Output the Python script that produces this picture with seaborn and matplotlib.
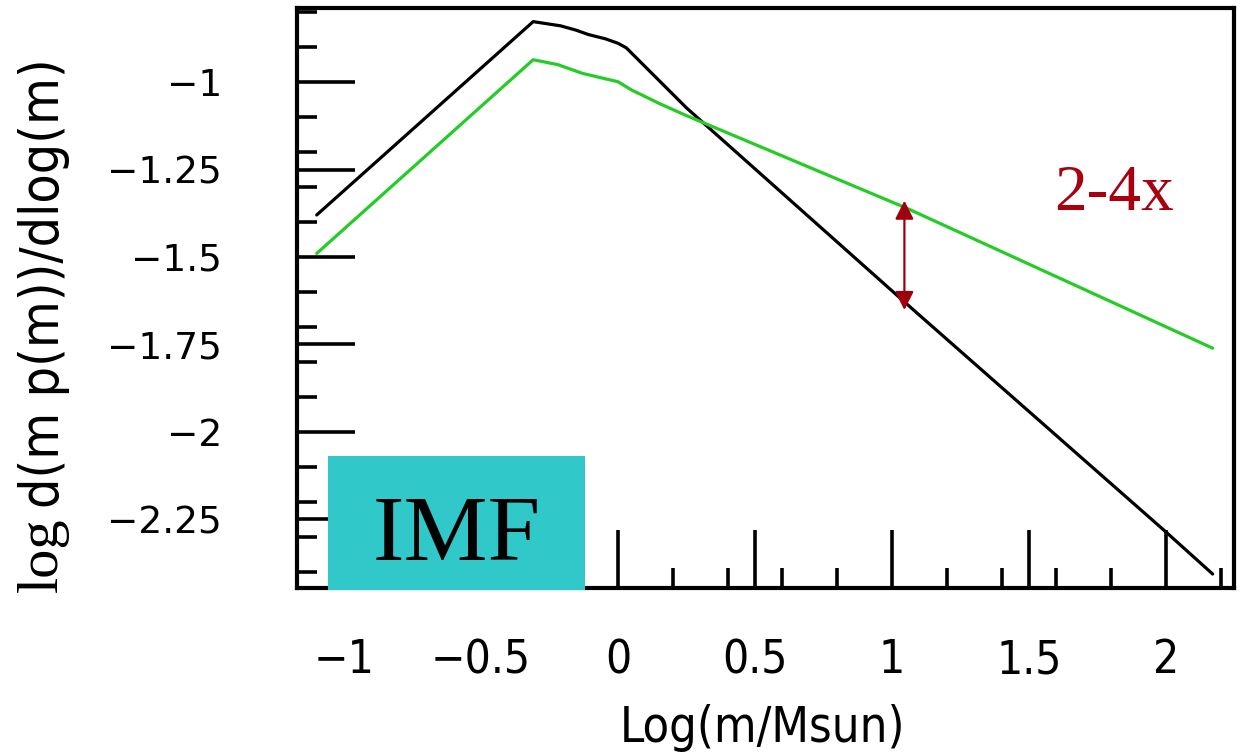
import matplotlib
matplotlib.use("Agg")
import numpy as np
import pandas as pd
import matplotlib.pyplot as plt
import seaborn as sns
from matplotlib.ticker import MultipleLocator
from matplotlib.patches import Rectangle
from matplotlib import font_manager

# ---- data ----
black_x = [-1.10, -0.31, -0.21, -0.155, -0.108, -0.047, 0.00, 0.03, 0.25, 1.07, 2.00, 2.17]
black_y = [-1.38, -0.827, -0.839, -0.851, -0.864, -0.876, -0.889, -0.902, -1.074, -1.646, -2.287, -2.407]
green_x = [-1.10, -0.31, -0.22, -0.13, -0.06, 0.00, 0.05, 0.085, 0.15, 0.25, 1.06, 2.17]
green_y = [-1.49, -0.936, -0.950, -0.975, -0.988, -0.999, -1.023, -1.036, -1.061, -1.096, -1.363, -1.761]

xtick_values = [-1, -0.5, 0, 0.5, 1, 1.5, 2]
xtick_labels = ["\u22121", "\u22120.5", "0", "0.5", "1", "1.5", "2"]
ytick_values = [-1, -1.25, -1.5, -1.75, -2, -2.25]
ytick_labels = ["\u22121", "\u22121.25", "\u22121.5", "\u22121.75", "\u22122", "\u22122.25"]

arrow_x = 1.045
arrow_y = [-1.652, -1.339]
ratio_label = "2-4x"
ratio_x, ratio_y = 1.59, -1.366
box_label = "IMF"
xlabel_text = "Log(m/Msun)"
ylabel_log = "log"
ylabel_rest = "d(m p(m))/dlog(m)"

# ---- style ----
sns.set_theme(style="white")
fonts = font_manager.fontManager.ttflist
names = {f.name for f in fonts}
has_condensed = any(f.name == "DejaVu Sans" and "Condensed" in f.fname for f in fonts)
narrow = "Liberation Sans Narrow" if "Liberation Sans Narrow" in names else "DejaVu Sans"
stretch = "condensed" if (narrow == "DejaVu Sans" and has_condensed) else "normal"
serif = "Liberation Serif" if "Liberation Serif" in names else "DejaVu Serif"
plt.rcParams["font.family"] = ["DejaVu Sans"]
plt.rcParams["text.color"] = "black"

narrow_scale = 1.0 if (narrow != "DejaVu Sans" or stretch == "condensed") else 0.85

W, H = 1244, 755
fig = plt.figure(figsize=(W / 100, H / 100), dpi=100)
fig.patch.set_facecolor("white")
ax = fig.add_axes([297 / W, 1 - 588 / H, (1234 - 297) / W, (588 - 8) / H])
ax.set_facecolor("white")

df = pd.concat([
    pd.DataFrame({"x": black_x, "y": black_y, "s": "black"}),
    pd.DataFrame({"x": green_x, "y": green_y, "s": "green"}),
], ignore_index=True)

sns.lineplot(data=df, x="x", y="y", hue="s",
             palette={"black": "#000000", "green": "#26CC26"},
             estimator=None, sort=False, legend=False, linewidth=2.3, ax=ax)

ax.set_xlim(-1.172, 2.248)
ax.set_ylim(-2.447, -0.788)
ax.set_xlabel("")
ax.set_ylabel("")

ax.set_xticks(xtick_values, xtick_labels)
ax.set_yticks(ytick_values, ytick_labels)
ax.xaxis.set_minor_locator(MultipleLocator(0.2))
ax.yaxis.set_minor_locator(MultipleLocator(0.1))

ax.tick_params(which="major", direction="in", length=41.8, width=2.6, color="black",
               bottom=True, left=True, top=False, right=False)
ax.tick_params(which="minor", direction="in", length=14.4, width=2.6, color="black",
               bottom=True, left=True, top=False, right=False)
ax.tick_params(axis="x", which="major", pad=36, labelsize=33 * narrow_scale, labelcolor="black")
ax.tick_params(axis="y", which="major", pad=54, labelsize=27, labelcolor="black")
for lab in ax.get_xticklabels():
    lab.set_fontfamily([narrow, "DejaVu Sans"])
    lab.set_fontstretch(stretch)

for sp in ax.spines.values():
    sp.set_visible(True)
    sp.set_color("black")
    sp.set_linewidth(3.0)

# double-headed arrow
ax.annotate("", xy=(arrow_x, arrow_y[1]), xytext=(arrow_x, arrow_y[0]),
            arrowprops=dict(arrowstyle="<|-|>,head_length=0.4,head_width=0.2",
                            color="#A0000E", lw=1.6, mutation_scale=28,
                            shrinkA=0, shrinkB=0))
ax.text(ratio_x, ratio_y, ratio_label, fontsize=47, color="#A8000F",
        fontfamily=serif, ha="left", va="baseline")

# IMF box
rect = Rectangle((328 / W, 1 - 590 / H), (585 - 328) / W, (590 - 456) / H,
                 transform=fig.transFigure, facecolor="#30C8C8", edgecolor="none", zorder=10)
fig.add_artist(rect)
fig.text(457 / W, 1 - 560 / H, box_label, fontsize=68, fontfamily=serif, color="black",
         ha="center", va="baseline", zorder=11)

# axis labels
fig.text(762 / W, 1 - 742 / H, xlabel_text, fontsize=35 * narrow_scale,
         fontfamily=[narrow, "DejaVu Sans"], fontstretch=stretch,
         color="black", ha="center", va="baseline")
fig.text(43 / W, 1 - 592 / H, ylabel_log, fontsize=42, fontfamily=serif, color="black",
         rotation=90, ha="center", va="bottom")
fig.text(44 / W, 1 - 508 / H, ylabel_rest, fontsize=38.5 * narrow_scale,
         fontfamily=[narrow, "DejaVu Sans"], fontstretch=stretch,
         color="black", rotation=90, ha="center", va="bottom")

fig.savefig("out.png", dpi=100, facecolor="white")
